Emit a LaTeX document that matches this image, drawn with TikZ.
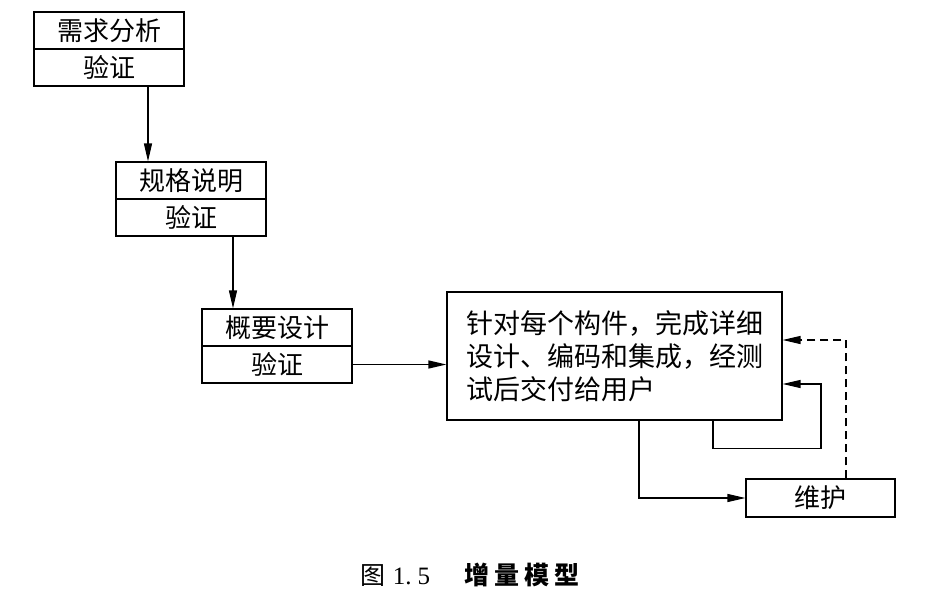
\documentclass[tikz,border=0pt]{standalone}
\usepackage{fontspec}
\setmainfont{Liberation Serif}
\newfontfamily\cjk{Noto Sans CJK SC}
\usetikzlibrary{arrows.meta,positioning,calc}
\tikzset{
  half/.style={draw,line width=1.2pt,minimum width=150pt,minimum height=37pt,inner sep=0pt,font=\cjk\fontsize{26}{30}\selectfont},
  bigbox/.style={draw,line width=1.2pt,minimum width=335pt,minimum height=128pt,inner sep=0pt,text width=300pt,align=left,font=\cjk\fontsize{27}{33}\selectfont},
  arr/.style={line width=1.3pt,-{Triangle[length=18pt,width=8pt]}},
  dashline/.style={dash pattern=on 8pt off 5pt}
}
\begin{document}
\begin{tikzpicture}[x=1pt,y=1pt]
\useasboundingbox (0,0) rectangle (926,-610);
\fill[white] (0,0) rectangle (926,-610);
% left cascade
\node[half] (a1) at (109,-30.5) {需求分析};
\node[half] (a2) at (109,-67.5) {验证};
\node[half] (b1) at (191,-180.5) {规格说明};
\node[half] (b2) at (191,-217.5) {验证};
\node[half] (c1) at (277,-327.5) {概要设计};
\node[half] (c2) at (277,-364.5) {验证};
% big box
\node[bigbox] (big) at (614.5,-356) {\hspace*{2pt}针对每个构件，完成详细\\\hspace*{2pt}设计、编码和集成，经测\\\hspace*{2pt}试后交付给用户};
% maintenance
\node[half,minimum width=149pt,minimum height=38pt] (m) at (820.5,-498) {维护};
% caption
\node[font=\fontsize{25}{29}\selectfont] (cap) at (470,-575) {{\cjk 图}\hspace{7pt}1.\hspace{6pt}5\hspace{34pt}{\cjk\bfseries 增\hspace{5pt}量\hspace{5pt}模\hspace{5pt}型}};
% connectors
\draw[arr] ([xshift=39pt]a2.south) -- ([xshift=39pt]a2.south |- b1.north);
\draw[arr] ([xshift=42pt]b2.south) -- ([xshift=42pt]b2.south |- c1.north);
\draw[arr] (c2.east) -- (c2.east -| big.west);
\draw[arr] ([xshift=98.5pt]big.south) -- ++(0,-28) -- ++(108,0) |- ([yshift=-28pt]big.east);
\draw[arr] ([xshift=24.5pt]big.south) |- (m.west);
\draw[arr,dashline] ([xshift=25.5pt]m.north) |- ([yshift=16pt]big.east);
\end{tikzpicture}
\end{document}
